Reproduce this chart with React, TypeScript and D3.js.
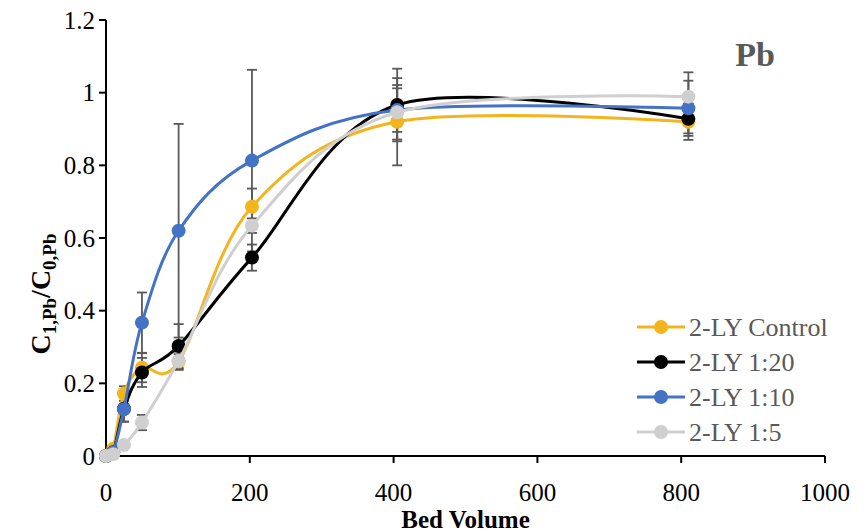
import React from "react";
import * as d3 from "d3";

const bedVolume = [0, 10, 25, 50, 101, 203, 405, 810];
const seriesNames = ["2-LY Control", "2-LY 1:20", "2-LY 1:10", "2-LY 1:5"];
const controlValues = [0, 0.02, 0.172, 0.243, 0.26, 0.686, 0.92, 0.92];
const ratio20Values = [0, 0.01, 0.13, 0.23, 0.303, 0.546, 0.966, 0.928];
const ratio10Values = [0, 0.01, 0.129, 0.367, 0.62, 0.813, 0.952, 0.957];
const ratio5Values = [0, 0.005, 0.03, 0.092, 0.262, 0.634, 0.946, 0.989];
const controlErr = [0, 0, 0.02, 0.04, 0.02, 0.05, 0.12, 0.05];
const ratio20Err = [0, 0, 0.035, 0.04, 0.06, 0.036, 0.1, 0.04];
const ratio10Err = [0, 0, 0.035, 0.083, 0.294, 0.25, 0.06, 0.076];
const ratio5Err = [0, 0, 0.01, 0.021, 0.025, 0.02, 0.075, 0.067];
const xTicks = [0, 200, 400, 600, 800, 1000];
const yTicks = [0, 0.2, 0.4, 0.6, 0.8, 1, 1.2];
const colors = ["#F2B51D", "#000000", "#4472C4", "#CFCFCF"];

const W = 868;
const H = 532;
const FONT = "'Liberation Serif', 'DejaVu Serif', 'Times New Roman', serif";

export default function App() {
  const x = d3.scaleLinear().domain([0, 1000]).range([106, 825]);
  const y = d3.scaleLinear().domain([0, 1.2]).range([456, 20]);
  const values = [controlValues, ratio20Values, ratio10Values, ratio5Values];
  const errs = [controlErr, ratio20Err, ratio10Err, ratio5Err];
  const line = d3
    .line<number>()
    .x((_, i) => x(bedVolume[i]))
    .y((d) => y(d))
    .curve(d3.curveCatmullRom.alpha(0));

  const errColor = "#595959";
  const cap = 5;

  return (
    <svg
      width={W}
      height={H}
      style={{ position: "fixed", left: 0, top: 0, background: "#fff", fontFamily: FONT }}
    >
      {/* axes */}
      <line x1={x(0)} x2={x(0)} y1={y(1.2)} y2={y(0)} stroke="#000" strokeWidth={2} />
      <line x1={x(0)} x2={x(1000)} y1={y(0)} y2={y(0)} stroke="#000" strokeWidth={2} />
      {yTicks.map((t) => (
        <g key={"yt" + t}>
          <line x1={x(0) - 7} x2={x(0)} y1={y(t)} y2={y(t)} stroke="#000" strokeWidth={2} />
          <text x={x(0) - 11} y={y(t)} dy="0.35em" textAnchor="end" fontSize={25} fill="#000">
            {d3.format("~g")(t)}
          </text>
        </g>
      ))}
      {xTicks.map((t) => (
        <g key={"xt" + t}>
          <line x1={x(t)} x2={x(t)} y1={y(0)} y2={y(0) + 7} stroke="#000" strokeWidth={2} />
          <text x={x(t)} y={y(0) + 45} textAnchor="middle" fontSize={25} fill="#000">
            {t}
          </text>
        </g>
      ))}
      <text x={(x(0) + x(1000)) / 2} y={528} textAnchor="middle" fontSize={25} fontWeight="bold">
        Bed Volume
      </text>
      <text
        transform={`translate(50, 294) rotate(-90)`}
        textAnchor="middle"
        fontSize={28}
        fontWeight="bold"
      >
        C<tspan fontSize={19} dy={6}>1,Pb</tspan>
        <tspan fontSize={28} dy={-6}>/C</tspan>
        <tspan fontSize={19} dy={6}>0,Pb</tspan>
      </text>
      <text x={755} y={66} textAnchor="middle" fontSize={34} fontWeight="bold" fill="#595959">
        Pb
      </text>

      {/* error bars */}
      {values.map((vals, s) => (
        <g key={"e" + s}>
          {vals.map((v, i) =>
            errs[s][i] > 0 ? (
              <g key={i} stroke={errColor} strokeWidth={1.8}>
                <line x1={x(bedVolume[i])} x2={x(bedVolume[i])} y1={y(v + errs[s][i])} y2={y(v - errs[s][i])} />
                <line x1={x(bedVolume[i]) - cap} x2={x(bedVolume[i]) + cap} y1={y(v + errs[s][i])} y2={y(v + errs[s][i])} />
                <line x1={x(bedVolume[i]) - cap} x2={x(bedVolume[i]) + cap} y1={y(v - errs[s][i])} y2={y(v - errs[s][i])} />
              </g>
            ) : null
          )}
        </g>
      ))}

      {/* series */}
      {values.map((vals, s) => (
        <g key={"s" + s}>
          <path d={line(vals) || ""} fill="none" stroke={colors[s]} strokeWidth={3} />
          {vals.map((v, i) => (
            <circle key={i} cx={x(bedVolume[i])} cy={y(v)} r={7} fill={colors[s]} />
          ))}
        </g>
      ))}

      {/* legend */}
      {seriesNames.map((name, s) => {
        const ly = 327 + s * 35;
        return (
          <g key={"l" + s}>
            <line x1={637} x2={685} y1={ly} y2={ly} stroke={colors[s]} strokeWidth={3} />
            <circle cx={661} cy={ly} r={7} fill={colors[s]} />
            <text x={689} y={ly} dy="0.35em" fontSize={26} fill="#595959">
              {name}
            </text>
          </g>
        );
      })}
    </svg>
  );
}
